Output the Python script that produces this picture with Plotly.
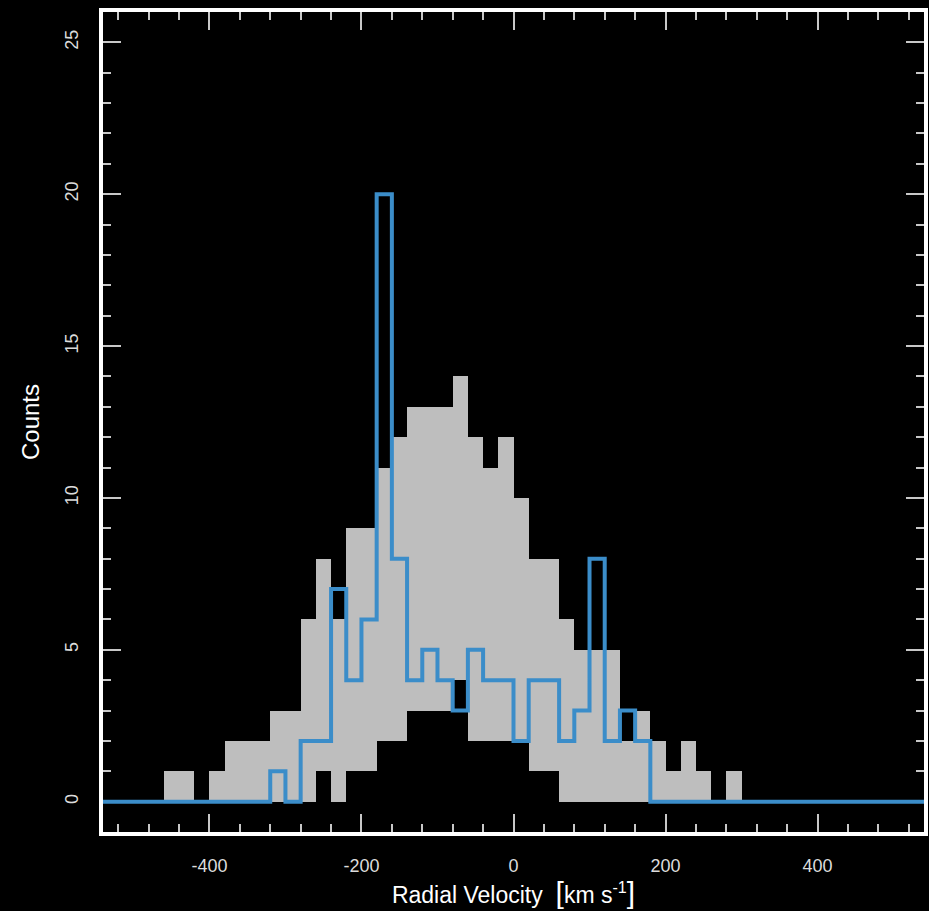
import plotly.graph_objects as go

# ---- data ----
# gray band: bins of 20 km/s, left edges
band_left = [-460, -440, -420, -400, -380, -360, -340, -320, -300, -280,
             -260, -240, -220, -200, -180, -160, -140, -120, -100, -80,
             -60, -40, -20, 0, 20, 40, 60, 80, 100, 120,
             140, 160, 180, 200, 220, 240, 260, 280]
band_upper = [1, 1, 0, 1, 2, 2, 2, 3, 3, 6,
              8, 6, 9, 9, 11, 12, 13, 13, 13, 14,
              12, 11, 12, 10, 8, 8, 6, 5, 5, 5,
              2, 3, 2, 1, 2, 1, 0, 1]
band_lower = [0, 0, 0, 0, 0, 0, 0, 0, 0, 0,
              1, 0, 1, 1, 2, 2, 3, 3, 3, 4,
              2, 2, 2, 2, 1, 1, 0, 0, 0, 0,
              0, 0, 0, 0, 0, 0, 0, 0]

# blue histogram: bins of 20 km/s, left edges
blue_left = [-540, -520, -500, -480, -460, -440, -420, -400, -380, -360,
             -340, -320, -300, -280, -260, -240, -220, -200, -180, -160,
             -140, -120, -100, -80, -60, -40, -20, 0, 20, 40,
             60, 80, 100, 120, 140, 160, 180, 200, 220, 240,
             260, 280, 300, 320, 340, 360, 380, 400, 420, 440,
             460, 480, 500, 520]
blue_counts = [0, 0, 0, 0, 0, 0, 0, 0, 0, 0,
               0, 1, 0, 2, 2, 7, 4, 6, 20, 8,
               4, 5, 4, 3, 5, 4, 4, 2, 4, 4,
               2, 3, 8, 2, 3, 2, 0, 0, 0, 0,
               0, 0, 0, 0, 0, 0, 0, 0, 0, 0,
               0, 0, 0, 0]
bin_width = 20

x_ticks = [-400, -200, 0, 200, 400]
y_ticks = [0, 5, 10, 15, 20, 25]

# ---- figure ----
band_centers = [e + bin_width / 2 for e in band_left]
band_heights = [u - l for u, l in zip(band_upper, band_lower)]

blue_x = blue_left + [blue_left[-1] + bin_width]
blue_y = blue_counts + [blue_counts[-1]]

fig = go.Figure()
fig.add_trace(go.Bar(
    x=band_centers, y=band_heights, base=band_lower, width=bin_width,
    marker=dict(color="#bebebe", line=dict(width=0)),
    showlegend=False, hoverinfo="skip"))
fig.add_trace(go.Scatter(
    x=blue_x, y=blue_y, mode="lines", line=dict(shape="hv", color="#3b8dc9", width=4),
    showlegend=False, hoverinfo="skip", cliponaxis=False))

tickcol = "#c8c8c8"
fnt = "Liberation Sans, Arial, sans-serif"

fig.update_xaxes(
    range=[-540, 540], showgrid=False, zeroline=False, layer="below traces",
    showline=True, linewidth=4, linecolor="white", mirror="allticks",
    ticks="inside", ticklen=18, tickwidth=2, tickcolor=tickcol,
    tickvals=x_ticks, ticktext=[str(v) for v in x_ticks],
    minor=dict(ticks="inside", ticklen=8, tickwidth=2, tickcolor=tickcol, dtick=40, tick0=0),
    tickfont=dict(family=fnt, size=18, color="#dcdcdc"),
    ticklabelstandoff=14,
    title=dict(text="Radial Velocity  <span style='font-size:30px'>[</span>km s<sup>-1</sup><span style='font-size:30px'>]</span>",
               font=dict(family=fnt, size=23, color="white"), standoff=8),
)
fig.update_yaxes(
    range=[-1, 26], showgrid=False, zeroline=False, layer="below traces",
    showline=True, linewidth=4, linecolor="white", mirror="allticks",
    ticks="inside", ticklen=18, tickwidth=2, tickcolor=tickcol,
    tickvals=y_ticks, ticktext=[str(v) for v in y_ticks], tickangle=-90,
    minor=dict(ticks="inside", ticklen=8, tickwidth=2, tickcolor=tickcol, dtick=1, tick0=0),
    tickfont=dict(family=fnt, size=18, color="#dcdcdc"),
    ticklabelstandoff=14,
    title=dict(text="Counts", font=dict(family=fnt, size=24, color="white"), standoff=16),
)

fig.update_layout(
    width=929, height=911,
    margin=dict(l=103, r=5, t=12, b=79, autoexpand=False),
    paper_bgcolor="black", plot_bgcolor="black",
    bargap=0, barmode="overlay",
)

fig.write_html("out.html")
